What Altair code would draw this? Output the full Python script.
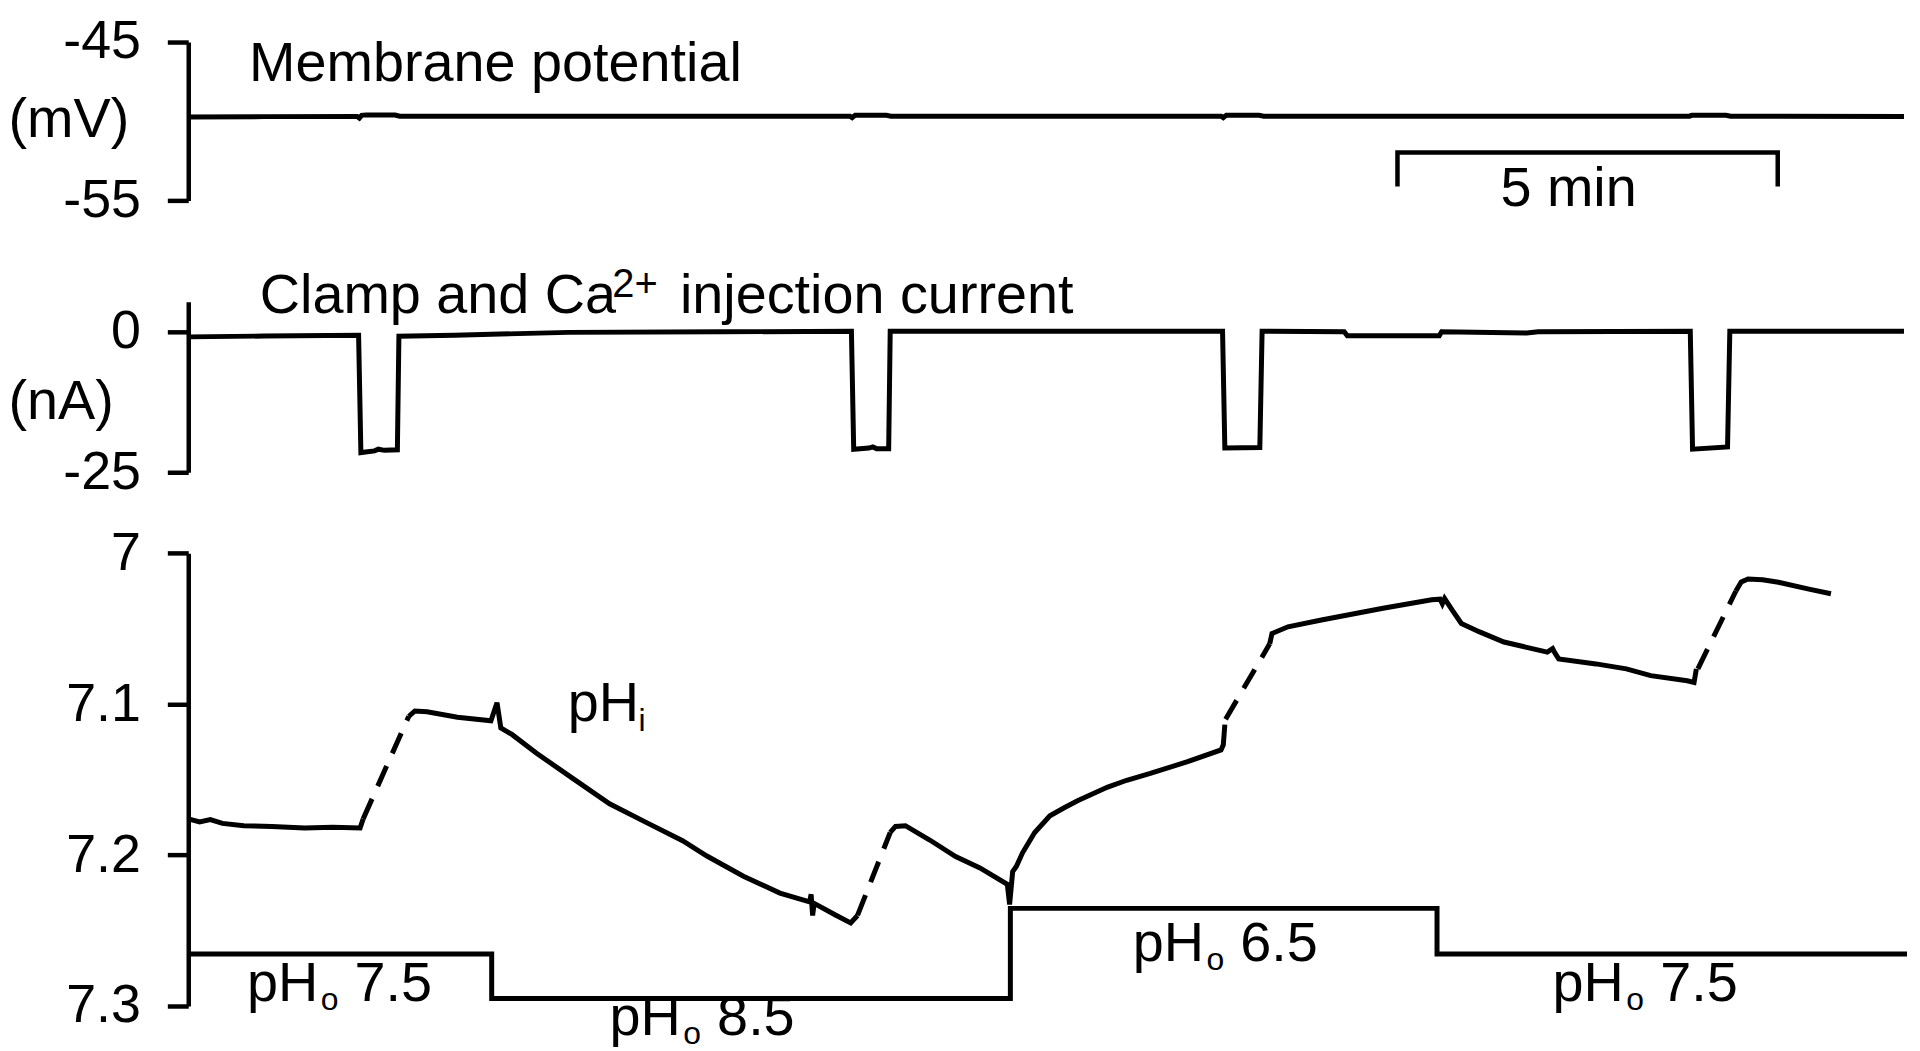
import altair as alt
import pandas as pd

FONT = "Liberation Sans"
T_MAX = 22.6  # minutes shown on the time axis

# ---------------- Membrane potential (mV) ----------------
vm_t = [0.00, 1.00, 2.22, 2.25, 2.28, 2.34, 2.72, 2.78, 5.00, 8.70, 8.73, 8.77, 9.18, 9.24,
        13.58, 13.61, 13.65, 14.08, 14.14, 17.50, 19.74, 19.77, 20.22, 20.28, 22.56]
vm_v = [-49.74, -49.71, -49.70, -49.80, -49.63, -49.60, -49.61, -49.68, -49.69, -49.68, -49.78,
        -49.62, -49.63, -49.68, -49.68, -49.78, -49.62, -49.63, -49.68, -49.68, -49.68, -49.63,
        -49.63, -49.69, -49.70]

# ---------------- Clamp and Ca2+ injection current (nA) ----------------
cur_t = [0.00, 1.00, 2.24, 2.27, 2.45, 2.50, 2.58, 2.75, 2.77, 3.50, 5.00, 7.00, 8.72, 8.75,
         8.95, 9.00, 9.05, 9.21, 9.23, 11.0, 13.60, 13.63, 14.09, 14.12, 15.20, 15.24, 16.45,
         16.48, 17.60, 17.75, 19.75, 19.78, 20.24, 20.27, 22.56]
cur_v = [-0.9, -0.75, -0.6, -21.5, -21.2, -20.9, -21.1, -21.0, -0.8, -0.6, -0.1, 0.0, 0.1, -20.9,
         -20.7, -20.5, -20.8, -20.8, 0.1, 0.1, 0.1, -20.7, -20.6, 0.1, 0.0, -0.7, -0.7,
         0.0, -0.2, 0.0, 0.1, -20.9, -20.5, 0.1, 0.1]

# ---------------- Intracellular pH (solid pieces and dashed gaps) ----------------
phi_solid_t = [
    [0.00, 0.15, 0.29, 0.45, 0.73, 1.10, 1.53, 1.90, 2.26, 2.30],
    [2.90, 2.98, 3.14, 3.54, 3.98, 4.06, 4.11, 4.26, 4.58, 5.06, 5.54, 6.02, 6.50, 6.82, 7.30,
     7.78, 8.17, 8.19, 8.21, 8.23, 8.51, 8.71, 8.80],
    [9.23, 9.30, 9.43, 9.75, 10.09, 10.41, 10.77, 10.80, 10.84, 10.89, 10.97, 11.13, 11.33,
     11.53, 11.70, 12.09, 12.34, 12.65, 13.14, 13.58, 13.61, 13.63],
    [14.22, 14.25, 14.46, 14.90, 15.71, 16.35, 16.46, 16.49, 16.52, 16.62, 16.74, 16.98, 17.30,
     17.87, 17.94, 17.97, 18.02, 18.51, 18.91, 19.23, 19.71, 19.80, 19.83],
    [20.35, 20.42, 20.51, 20.70, 20.91, 21.31, 21.60],
]
phi_solid_v = [
    [7.176, 7.178, 7.1765, 7.179, 7.1805, 7.181, 7.182, 7.1815, 7.182, 7.176],
    [7.108, 7.1045, 7.105, 7.1086, 7.111, 7.099, 7.1157, 7.1202, 7.1325, 7.1493, 7.166, 7.1783,
     7.1905, 7.2006, 7.214, 7.2252, 7.231, 7.226, 7.240, 7.232, 7.2397, 7.245, 7.240],
    [7.185, 7.181, 7.1805, 7.190, 7.201, 7.2085, 7.2194, 7.2327, 7.211, 7.2074, 7.1985, 7.185,
     7.1739, 7.1683, 7.1638, 7.1549, 7.1504, 7.1459, 7.1381, 7.1303, 7.1269, 7.1135],
    [7.060, 7.0532, 7.0487, 7.0442, 7.0364, 7.0308, 7.0304, 7.0335, 7.030, 7.0376, 7.0465,
     7.0521, 7.0588, 7.0655, 7.0632, 7.066, 7.070, 7.0733, 7.0766, 7.0811, 7.0845, 7.0856,
     7.0766],
    [7.025, 7.019, 7.017, 7.0175, 7.0192, 7.0237, 7.0268],
]
phi_dash_t = [[2.30, 2.90], [8.80, 9.23], [13.64, 14.22], [19.85, 20.35]]
phi_dash_v = [[7.176, 7.108], [7.240, 7.185], [7.110, 7.060], [7.0766, 7.025]]

# ---------------- External pH solution changes ----------------
pho_change_t = [0.0, 3.99, 10.81, 16.42]
pho_trace_level = [7.2655, 7.295, 7.2353, 7.2655]
pho_names = ["7.5", "8.5", "6.5", "7.5"]
pho_label_t = [0.772, 5.54, 12.42, 17.94]
pho_label_v = [7.2968, 7.3190, 7.270, 7.2968]

# ---------------- Annotations ----------------
mem_label = "Membrane potential"
mem_label_t, mem_label_v = 0.80, -47.45
scalebar_t = [15.90, 15.90, 20.90, 20.90]
scalebar_v = [-54.12, -51.98, -51.98, -54.12]
scalebar_text = "5 min"
scalebar_text_t, scalebar_text_v = 18.15, -55.38
cur_label_main, cur_label_sup, cur_label_rest = "Clamp and Ca", "2+", "injection current"
cur_label_t, cur_label_v = 0.94, 3.28
phi_label_main, phi_label_sub = "pH", "i"
phi_label_t, phi_label_v = 4.99, 7.1113

# ---------------- build tables ----------------
def table(t, v):
    return pd.DataFrame({"t": t, "v": v, "i": range(len(t))})


def segs(ts, vs):
    parts = []
    for k, (t, v) in enumerate(zip(ts, vs)):
        d = table(t, v)
        d["seg"] = k
        parts.append(d)
    return pd.concat(parts, ignore_index=True)


df_vm = table(vm_t, vm_v)
df_bar = table(scalebar_t, scalebar_v)
df_cur = table(cur_t, cur_v)
df_solid = segs(phi_solid_t, phi_solid_v)
df_dash = segs(phi_dash_t, phi_dash_v)
df_pho = table(pho_change_t + [T_MAX], pho_trace_level + [pho_trace_level[-1]])
df_pho_lab = pd.DataFrame({"t": pho_label_t, "v": pho_label_v, "num": pho_names,
                           "p": ["pH"] * 4, "o": ["o"] * 4})
df_mem = pd.DataFrame({"t": [mem_label_t], "v": [mem_label_v], "label": [mem_label]})
df_5 = pd.DataFrame({"t": [scalebar_text_t], "v": [scalebar_text_v], "label": [scalebar_text]})
df_curlab = pd.DataFrame({"t": [cur_label_t], "v": [cur_label_v], "a": [cur_label_main],
                          "b": [cur_label_sup], "c": [cur_label_rest]})
df_philab = pd.DataFrame({"t": [phi_label_t], "v": [phi_label_v], "a": [phi_label_main],
                          "b": [phi_label_sub]})

# ---------------- scales & axes ----------------
x_enc = alt.X("t:Q", scale=alt.Scale(domain=[0, T_MAX], nice=False, zero=False), axis=None)
mv_scale = alt.Scale(domain=[-55, -45], range=[191, 32], nice=False, zero=False)
na_scale = alt.Scale(domain=[-25, 5.37], range=[464, 292.7], nice=False, zero=False)
ph_scale = alt.Scale(domain=[7.0, 7.3], range=[545.4, 1000], nice=False, zero=False)


def make_axis(values, title=None, title_y=0):
    kw = dict(values=values, orient="left", domain=True, domainColor="black", domainWidth=4.5,
              ticks=True, tickColor="black", tickWidth=4.5, tickSize=21, grid=False,
              labelFont=FONT, labelFontSize=54, labelColor="black", labelPadding=27,
              labelExpr="'' + datum.value", labelBaseline="middle")
    if title:
        kw.update(title=title, titleFont=FONT, titleFontSize=56, titleFontWeight="normal",
                  titleColor="black", titleAngle=0, titleAlign="left", titleBaseline="middle",
                  titleX=-181, titleY=title_y)
    else:
        kw.update(title=None)
    return alt.Axis(**kw)


def Y(scale, axis=None):
    return alt.Y("v:Q", scale=scale, axis=axis)


def line(data, scale, axis=None, width=5, **mark):
    enc = dict(x=x_enc, y=Y(scale, axis), order="i:Q")
    if "seg" in data.columns:
        enc["detail"] = "seg:N"
    return alt.Chart(data).mark_line(color="black", strokeWidth=width, **mark).encode(**enc)


def txt(data, scale, field, size=56, dx=0, dy=0, align="left"):
    return alt.Chart(data).mark_text(font=FONT, fontSize=size, align=align,
                                     baseline="alphabetic", color="black", dx=dx, dy=dy).encode(
        x=x_enc, y=Y(scale), text=f"{field}:N")


layers = [
    # panel 1: membrane potential
    line(df_vm, mv_scale, make_axis([-45, -55], "(mV)", 110)),
    line(df_bar, mv_scale, width=4.5),
    txt(df_mem, mv_scale, "label"),
    txt(df_5, mv_scale, "label", align="center"),
    # panel 2: current
    line(df_cur, na_scale, make_axis([0, -25], "(nA)", 393)),
    txt(df_curlab, na_scale, "a"),
    txt(df_curlab, na_scale, "b", size=40, dx=354, dy=-16),
    txt(df_curlab, na_scale, "c", dx=422),
    # panel 3: pH
    line(df_solid, ph_scale, make_axis([7, 7.1, 7.2, 7.3])),
    line(df_dash, ph_scale, strokeDash=[22, 14]),
    line(df_pho, ph_scale, width=5, interpolate="step-after"),
    txt(df_philab, ph_scale, "a"),
    txt(df_philab, ph_scale, "b", size=32, dx=71, dy=10),
    txt(df_pho_lab, ph_scale, "p"),
    txt(df_pho_lab, ph_scale, "o", size=32, dx=74, dy=9),
    txt(df_pho_lab, ph_scale, "num", dx=108),
]

chart = (
    alt.layer(*layers)
    .resolve_scale(y="independent")
    .resolve_axis(y="independent")
    .properties(
        width=1726,
        height=1043,
        padding={"left": 181, "top": 0, "right": 5, "bottom": 0},
        autosize=alt.AutoSizeParams(type="none"),
        background="white",
    )
    .configure_view(stroke=None)
)

chart.save("out.html", embed_options={"renderer": "svg", "actions": False})
